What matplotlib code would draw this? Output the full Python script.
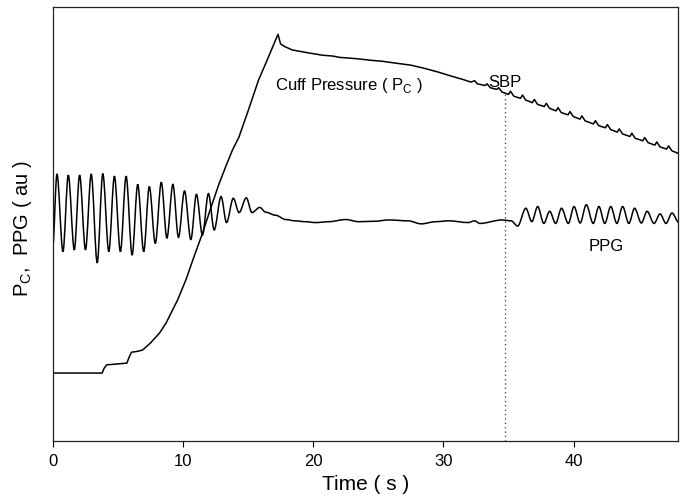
import matplotlib
matplotlib.use("Agg")
import matplotlib.pyplot as plt
from matplotlib.path import Path
from matplotlib.patches import PathPatch

plt.rcParams['font.family'] = ['Liberation Sans', 'DejaVu Sans']
plt.rcParams['mathtext.fontset'] = 'custom'
plt.rcParams['mathtext.rm'] = 'Liberation Sans'

# cuff pressure trace (time in s, pressure in au)
cuff_t = [0.0, 3.8, 3.95, 4.15, 5.0, 5.7, 5.85, 6.05, 6.5, 6.9, 7.5, 8.2, 8.7, 9.2, 9.6,
          10.23, 10.8, 11.5, 12.1, 12.78, 13.3, 13.8, 14.3, 15.0, 15.8, 16.5, 17.1, 17.3,
          17.5, 17.8, 18.4, 19.5, 20.7, 21.5, 22.0, 23.3, 24.5, 25.3, 26.0, 27.0, 27.5,
          28.5, 29.6, 30.8, 31.5, 32.1, 32.4, 32.6, 33.2, 33.35, 33.6, 34.1, 34.25, 34.5,
          35.0, 35.15, 35.4, 35.92, 36.07, 36.32, 36.83, 36.98, 37.23, 37.75, 37.9, 38.15,
          38.65, 38.8, 39.05, 39.57, 39.72, 39.97, 40.48, 40.63, 40.88, 41.52, 41.67, 41.92,
          42.44, 42.59, 42.84, 43.35, 43.5, 43.75, 44.32, 44.47, 44.72, 45.31, 45.46, 45.71,
          46.23, 46.38, 46.63, 47.14, 47.29, 47.54, 48.0]
cuff_y = [16.1, 16.1, 17.2, 18.0, 18.2, 18.4, 19.6, 20.9, 21.1, 21.4, 23.0, 25.3, 27.6, 30.6, 33.0,
          37.6, 42.5, 48.3, 53.8, 59.8, 63.8, 67.5, 70.5, 76.5, 83.6, 88.5, 92.8, 94.2,
          92.0, 91.4, 90.6, 90.0, 89.4, 89.2, 88.9, 88.6, 88.2, 88.0, 87.7, 87.3, 87.1,
          86.4, 85.5, 84.4, 83.8, 83.2, 83.5, 82.8, 82.4, 82.8, 81.9, 81.5, 81.9, 80.9,
          80.35, 81.1, 79.95, 79.45, 80.2, 79.05, 78.45, 79.2, 78.05, 77.55, 78.3, 77.15,
          76.55, 77.3, 76.15, 75.65, 76.4, 75.25, 74.65, 75.4, 74.25, 73.55, 74.3, 73.15,
          72.65, 73.4, 72.25, 71.65, 72.4, 71.25, 70.65, 71.4, 70.25, 69.65, 70.4, 69.25,
          68.65, 69.4, 68.25, 67.75, 68.5, 67.35, 66.8]

# PPG trace: peaks / troughs / turning points
ppg_t = [0.0, 0.33, 0.79, 1.20, 1.66, 2.07, 2.52, 2.96, 3.42, 3.85, 4.31, 4.74, 5.20, 5.64,
         6.10, 6.53, 6.99, 7.42, 7.88, 8.34, 8.77, 9.23, 9.66, 10.12, 10.61, 11.04, 11.50,
         11.96, 12.40, 12.93, 13.35, 13.87, 14.31, 14.87, 15.30, 15.90, 16.35, 17.1, 17.9,
         18.6, 19.4, 20.2, 21.2, 22.5, 23.5, 24.7, 25.8, 27.3, 28.3, 29.4, 30.4, 31.9, 32.4,
         32.8, 34.5, 35.2, 35.7, 36.33, 36.79, 37.24, 37.71, 38.16, 38.62, 39.07, 39.59,
         40.03, 40.5, 40.97, 41.5, 41.94, 42.39, 42.85, 43.32, 43.76, 44.24, 44.68, 45.2,
         45.64, 46.17, 46.64, 47.09, 47.55, 48.08]
ppg_y = [45.0, 62.0, 44.1, 61.75, 44.5, 61.75, 44.5, 62.0, 41.5, 62.1, 44.1, 61.5, 44.1, 61.5,
         43.3, 59.6, 44.1, 59.1, 46.0, 60.1, 47.2, 59.6, 47.4, 58.1, 46.9, 57.3, 47.9,
         57.5, 49.1, 56.8, 50.8, 56.4, 53.1, 56.5, 53.1, 54.3, 53.2, 52.5, 51.5,
         51.2, 51.0, 50.8, 51.0, 51.5, 51.0, 51.1, 51.4, 51.2, 50.5, 51.0, 51.2, 50.8, 51.2,
         50.6, 51.4, 51.2, 50.0, 54.1, 51.0, 54.5, 50.6, 53.4, 50.6, 54.1, 50.6,
         54.5, 50.7, 54.9, 50.6, 54.5, 50.6, 54.5, 50.6, 54.5, 50.6, 54.1, 50.7,
         53.4, 50.6, 52.8, 50.6, 53.0, 50.8]

sbp_t = 34.7
sbp_y = 80.6

fig = plt.figure(figsize=(6.84, 5.03), dpi=100)
ax = fig.add_axes([0.077, 0.123, 0.914, 0.863])

ax.plot(cuff_t, cuff_y, color='black', lw=1.1)

# smooth PPG: cubic segments with flat tangents at each turning point
verts = [(ppg_t[0], ppg_y[0])]
codes = [Path.MOVETO]
for i in range(1, len(ppg_t)):
    x0, y0 = ppg_t[i - 1], ppg_y[i - 1]
    x1, y1 = ppg_t[i], ppg_y[i]
    d = (x1 - x0) / 3.0
    verts += [(x0 + d, y0), (x1 - d, y1), (x1, y1)]
    codes += [Path.CURVE4] * 3
ax.add_patch(PathPatch(Path(verts, codes), fill=False, color='black', lw=1.1))

ax.plot([sbp_t, sbp_t], [0.4, sbp_y], color='#333333', lw=0.9, ls=(0, (1, 2.5)))

ax.text(17.07, 81.3, r"Cuff Pressure ( P$_{\rm C}$ )", fontsize=12, va='baseline')
ax.text(33.46, 82.1, "SBP", fontsize=12, va='baseline')
ax.text(41.15, 44.2, "PPG", fontsize=12, va='baseline')

ax.set_xlim(0, 48)
ax.set_ylim(0.4, 100.5)
ax.set_xticks([0, 10, 20, 30, 40])
ax.set_yticks([])
ax.tick_params(axis='x', direction='out', length=4.5, width=0.8, labelsize=12, pad=5)
for s in ax.spines.values():
    s.set_linewidth(0.9)
    s.set_color('#222222')

ax.set_xlabel("Time ( s )", fontsize=15, labelpad=4)
ax.set_ylabel(r"P$_{\rm C}$,  PPG ( au )", fontsize=14.5)
ax.yaxis.set_label_coords(-0.030, 0.49)

fig.savefig("out.png", dpi=100)
